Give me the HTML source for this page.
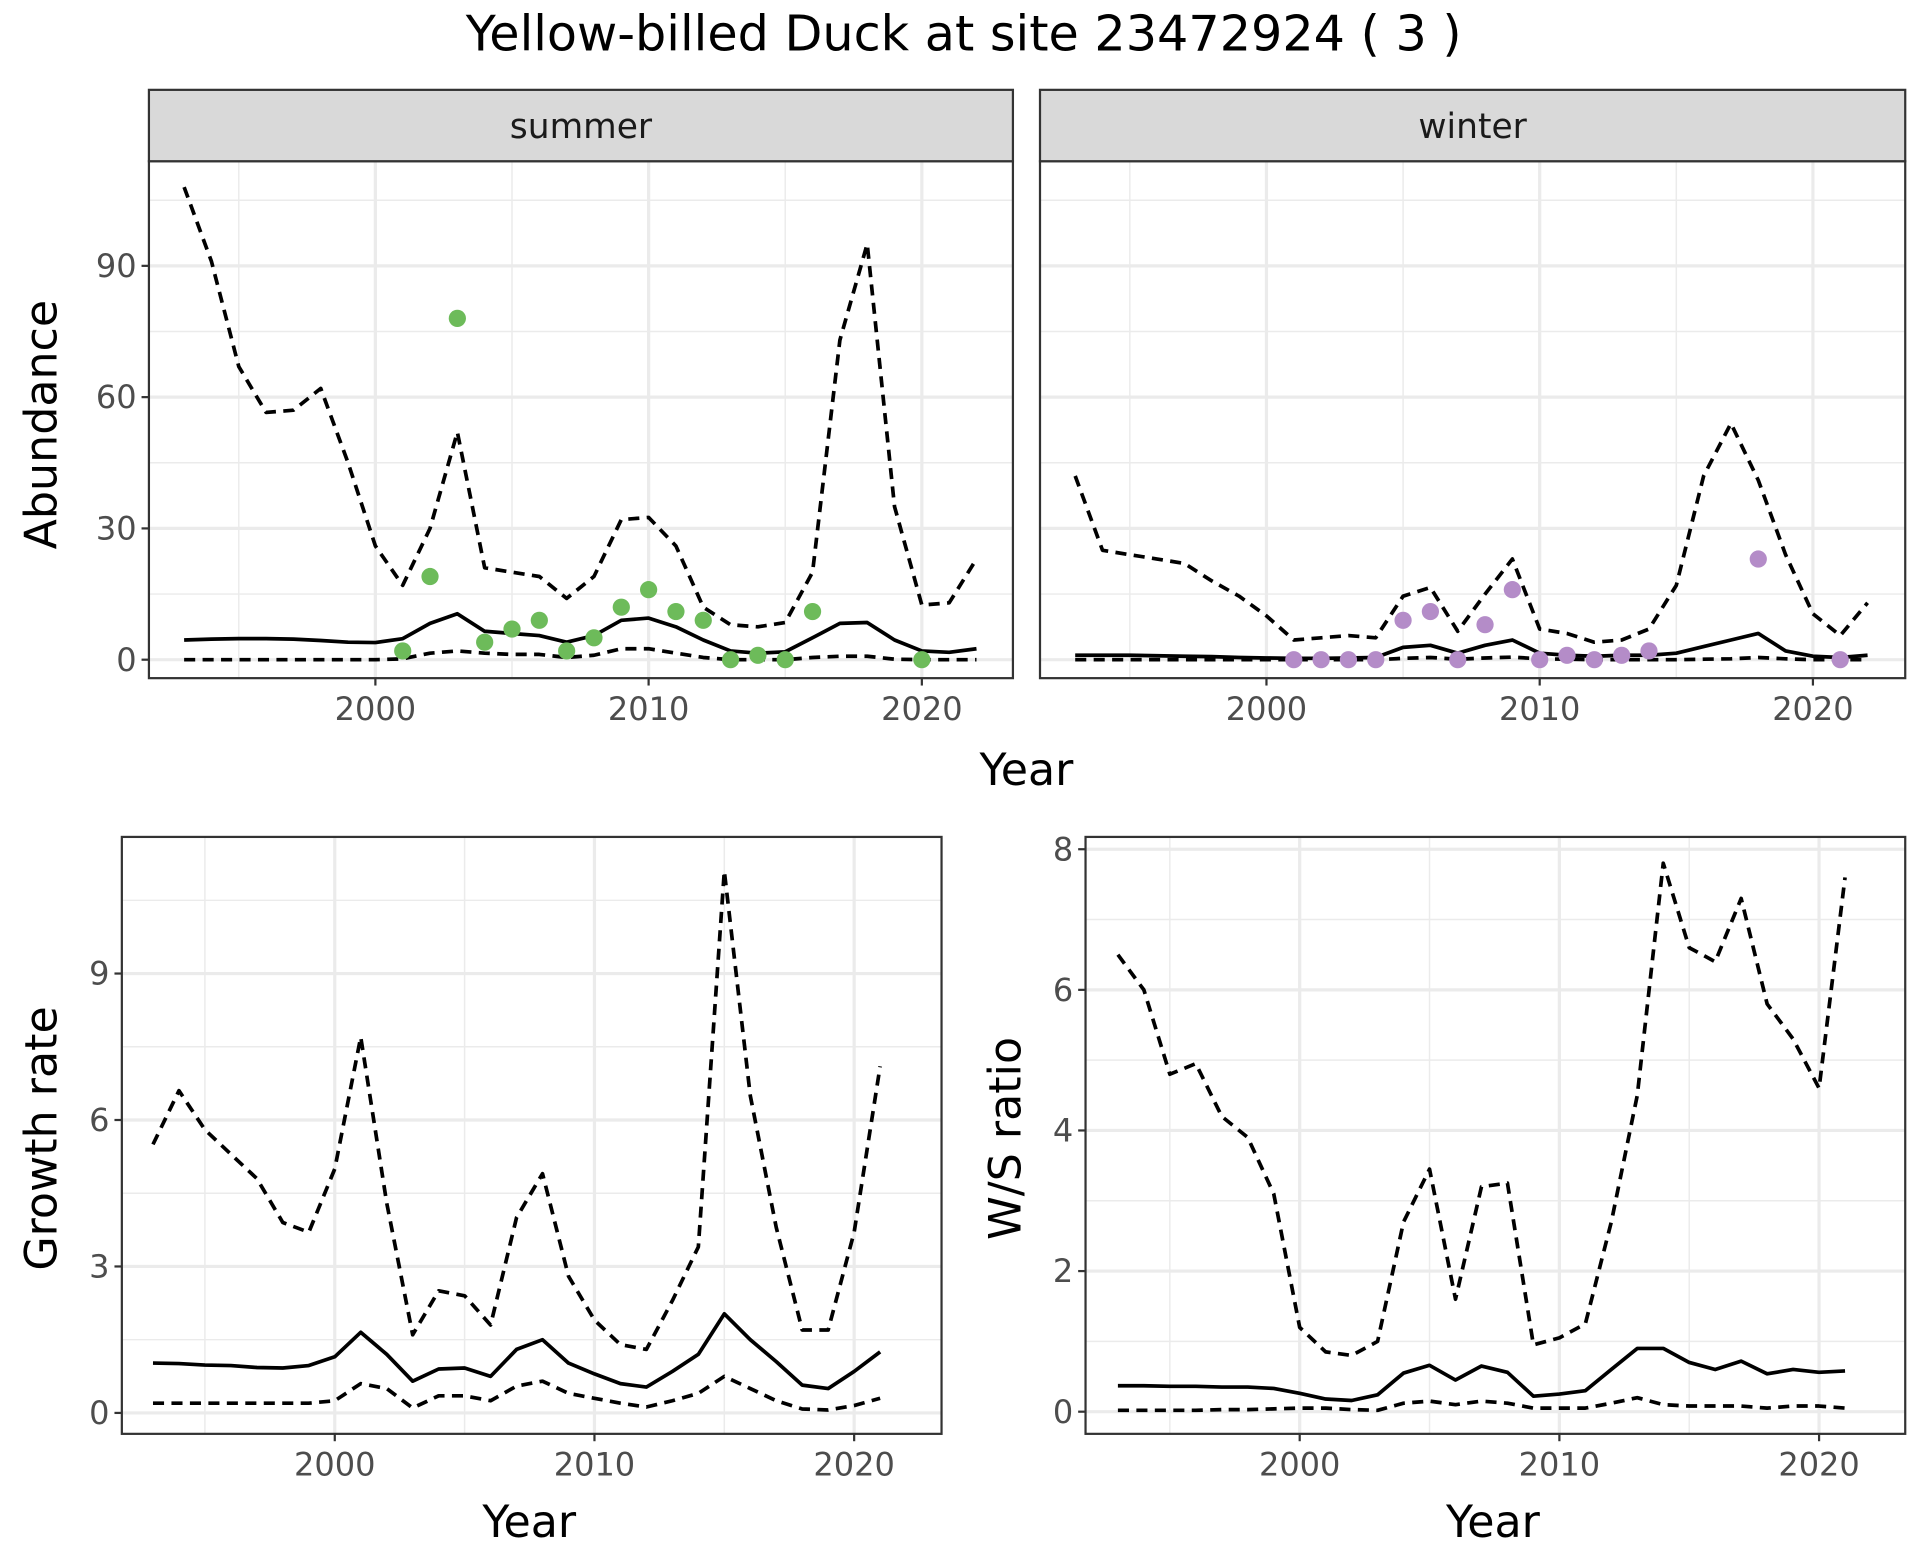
<!DOCTYPE html>
<html><head><meta charset="utf-8"><style>
html,body{margin:0;padding:0;background:#fff;}
svg{display:block;font-family:"DejaVu Sans","Liberation Sans",sans-serif;}
</style></head><body>
<svg id="fig" width="1920" height="1560" viewBox="0 0 1560 1267.5" preserveAspectRatio="none" xmlns="http://www.w3.org/2000/svg">
<text x="783" y="41" text-anchor="middle" font-size="40" fill="#000">Yellow-billed Duck at site 23472924 ( 3 )</text>
</svg>
<script>
const absYears=[1993,1994,1995,1996,1997,1998,1999,2000,2001,2002,2003,2004,2005,2006,2007,2008,2009,2010,2011,2012,2013,2014,2015,2016,2017,2018,2019,2020,2021,2022];
const sumMean=[4.5,4.7,4.8,4.8,4.7,4.4,4.0,3.9,4.8,8.3,10.5,6.5,6.0,5.5,4.0,5.5,9.0,9.5,7.5,4.5,2.0,1.5,1.8,5.0,8.3,8.5,4.5,2.0,1.7,2.5];
const sumUpper=[108,91,67,56.5,57,62,45,26,17,30,52,21,20,19,14,19,32,32.5,26,12,8,7.5,8.5,20,73,95,35,12.5,13,23];
const sumLower=[0,0,0,0,0,0,0,0,0.2,1.5,2,1.5,1.2,1.2,0.5,1,2.5,2.5,1.5,0.5,0,0,0,0.5,0.8,0.8,0.1,0,0,0];
const sumPtYears=[2001,2002,2003,2004,2005,2006,2007,2008,2009,2010,2011,2012,2013,2014,2015,2016,2020];
const sumPtVals=[2,19,78,4,7,9,2,5,12,16,11,9,0,1,0,11,0];
const winMean=[1,1,1,0.9,0.8,0.7,0.5,0.4,0.3,0.3,0.4,0.5,2.8,3.3,1.5,3.3,4.5,1.5,1,0.8,1,1,1.5,3,4.5,6,2,0.8,0.5,1];
const winUpper=[42,25,24,23,22,18,14.5,10,4.5,5,5.5,5,14.5,16.5,6.5,15,23,7,6,4,4.5,7,17,42,54,41,24,10.5,5.5,13];
const winLower=[0,0,0,0,0,0,0,0,0,0,0,0,0.3,0.5,0.1,0.4,0.6,0.2,0.1,0,0,0,0,0.1,0.2,0.5,0.2,0,0,0];
const winPtYears=[2001,2002,2003,2004,2005,2006,2007,2008,2009,2010,2011,2012,2013,2014,2018,2021];
const winPtVals=[0,0,0,0,9,11,0,8,16,0,1,0,1,2,23,0];
const grYears=[1993,1994,1995,1996,1997,1998,1999,2000,2001,2002,2003,2004,2005,2006,2007,2008,2009,2010,2011,2012,2013,2014,2015,2016,2017,2018,2019,2020,2021];
const grMean=[1.02,1.01,0.98,0.97,0.93,0.92,0.97,1.15,1.65,1.2,0.65,0.9,0.92,0.75,1.3,1.5,1.02,0.8,0.6,0.53,0.85,1.2,2.03,1.5,1.05,0.57,0.5,0.85,1.25];
const grUpper=[5.5,6.6,5.8,5.3,4.8,3.9,3.7,5.0,7.7,4.3,1.6,2.5,2.4,1.8,4.0,4.9,2.8,1.9,1.4,1.3,2.3,3.4,11.1,6.5,3.8,1.7,1.7,3.7,7.1];
const grLower=[0.2,0.2,0.2,0.2,0.2,0.2,0.2,0.25,0.6,0.5,0.1,0.35,0.35,0.25,0.55,0.65,0.4,0.3,0.2,0.12,0.25,0.4,0.75,0.5,0.25,0.08,0.06,0.15,0.3];
const wsMean=[0.37,0.37,0.36,0.36,0.35,0.35,0.33,0.26,0.18,0.16,0.24,0.55,0.66,0.45,0.65,0.56,0.22,0.25,0.3,0.6,0.9,0.9,0.7,0.6,0.72,0.54,0.6,0.56,0.58];
const wsUpper=[6.5,6.0,4.8,4.95,4.2,3.9,3.1,1.2,0.85,0.8,1.0,2.7,3.45,1.6,3.2,3.25,0.95,1.05,1.25,2.7,4.5,7.8,6.6,6.4,7.3,5.8,5.3,4.6,7.6];
const wsLower=[0.02,0.02,0.02,0.02,0.03,0.03,0.04,0.05,0.05,0.03,0.02,0.12,0.15,0.1,0.15,0.12,0.05,0.05,0.05,0.12,0.2,0.1,0.08,0.08,0.08,0.05,0.08,0.08,0.05];
const xTicks=[2000,2010,2020];
const xMinor=[1995,2005,2015];
const abTicks=[0,30,60,90];
const abMinor=[15,45,75,105];
const grTicks=[0,3,6,9];
const grMinor=[1.5,4.5,7.5,10.5];
const wsTicks=[0,2,4,6,8];
const wsMinor=[1,3,5,7];

const NS="http://www.w3.org/2000/svg";
const svg=document.getElementById('fig');
function mk(tag,attrs,parent){const e=document.createElementNS(NS,tag);for(const k in attrs)e.setAttribute(k,attrs[k]);(parent||svg).appendChild(e);return e;}
function lin(d0,d1,r0,r1){return v=>r0+(v-d0)*(r1-r0)/(d1-d0);}

function panel(o){
  const g=mk('g',{});
  
  
  const X=lin(2000,2010,o.x2000,o.x2010), Y=lin(0,o.yRefVal,o.y0,o.yRef);
  for(const v of o.yMinor){const y=Y(v);if(y<o.top||y>o.bottom)continue;const l=mk('line',{x1:o.left,x2:o.right,y1:y,y2:y,stroke:'#ebebeb','stroke-width':1.2},g);}
  for(const v of xMinor){const x=X(v);const l=mk('line',{x1:x,x2:x,y1:o.top,y2:o.bottom,stroke:'#ebebeb','stroke-width':1.2},g);}
  for(const v of o.yTicks){const y=Y(v);const l=mk('line',{x1:o.left,x2:o.right,y1:y,y2:y,stroke:'#ebebeb','stroke-width':2.6},g);}
  for(const v of xTicks){const x=X(v);const l=mk('line',{x1:x,x2:x,y1:o.top,y2:o.bottom,stroke:'#ebebeb','stroke-width':2.6},g);}
  const series=[[o.upper,'9,6'],[o.lower,'9,6'],[o.mean,null]];
  series.forEach(([vals,dash],i)=>{
    const pts=o.years.map((yr,j)=>X(yr).toFixed(1)+','+Y(vals[j]).toFixed(1)).join(' ');
    const a={points:pts,fill:'none',stroke:'#000','stroke-width':3,'stroke-linejoin':'round'};
    if(dash)a['stroke-dasharray']=dash;
    const p=mk('polyline',a,g);
    
    
  });
  if(o.ptYears){o.ptYears.forEach((yr,j)=>{const c=mk('circle',{cx:X(yr),cy:Y(o.ptVals[j]),r:7,fill:o.ptColor},g);});}
  const fr=mk('rect',{x:o.left,y:o.top,width:o.right-o.left,height:o.bottom-o.top,fill:'none',stroke:'#333','stroke-width':1.8},g);
  
  if(o.strip){
    const s=mk('rect',{x:o.left,y:o.top-58,width:o.right-o.left,height:58,fill:'#d9d9d9',stroke:'#333','stroke-width':1.8},g);
    
    const t=mk('text',{x:(o.left+o.right)/2,y:o.top-19,'text-anchor':'middle','font-size':28,fill:'#1a1a1a'},g);t.textContent=o.strip;
    
  }
  for(const v of xTicks){const x=X(v);
    const tk=mk('line',{x1:x,x2:x,y1:o.bottom,y2:o.bottom+6,stroke:'#333','stroke-width':1.8},g);
    const t=mk('text',{x:x,y:o.bottom+34,'text-anchor':'middle','font-size':26,fill:'#4d4d4d'},g);t.textContent=v;
    }
  if(o.yLabels){for(const v of o.yTicks){const y=Y(v);
    const tk=mk('line',{x1:o.left-6,x2:o.left,y1:y,y2:y,stroke:'#333','stroke-width':1.8},g);
    const t=mk('text',{x:o.left-10,y:y+9,'text-anchor':'end','font-size':26,fill:'#4d4d4d'},g);t.textContent=v;
    }}
  if(o.ytitle){const t=mk('text',{x:o.ytx,y:o.yty,'text-anchor':'middle','font-size':36,fill:'#000',transform:`rotate(-90 ${o.ytx} ${o.yty})`},g);t.textContent=o.ytitle;
    }
  if(o.xtitle){const t=mk('text',{x:o.xtx,y:o.xty,'text-anchor':'middle','font-size':36,fill:'#000'},g);t.textContent='Year';
    }
}
panel({name:'summer-panel',left:121,right:823,top:131,bottom:551,x2000:305,x2010:527,y0:536,yRef:216,yRefVal:90,yTicks:abTicks,yMinor:abMinor,years:absYears,mean:sumMean,upper:sumUpper,lower:sumLower,ptYears:sumPtYears,ptVals:sumPtVals,ptColor:'#6dbb5a',strip:'summer',yLabels:true,ytitle:'Abundance',ytx:46,yty:345});
panel({name:'winter-panel',left:845,right:1548,top:131,bottom:551,x2000:1029,x2010:1251,y0:536,yRef:216,yRefVal:90,yTicks:abTicks,yMinor:abMinor,years:absYears,mean:winMean,upper:winUpper,lower:winLower,ptYears:winPtYears,ptVals:winPtVals,ptColor:'#b48cc8',strip:'winter',yLabels:false,xtitle:true,xtx:834,xty:638});
panel({name:'growth-rate-panel',left:99,right:765,top:680,bottom:1165,x2000:272,x2010:483,y0:1148,yRef:791,yRefVal:9,yTicks:grTicks,yMinor:grMinor,years:grYears,mean:grMean,upper:grUpper,lower:grLower,yLabels:true,ytitle:'Growth rate',ytx:46,yty:925,xtitle:true,xtx:430,xty:1249});
panel({name:'ws-ratio-panel',left:882,right:1548,top:680,bottom:1165,x2000:1056,x2010:1267,y0:1147,yRef:690,yRefVal:8,yTicks:wsTicks,yMinor:wsMinor,years:grYears,mean:wsMean,upper:wsUpper,lower:wsLower,yLabels:true,ytitle:'W/S ratio',ytx:829,yty:925,xtitle:true,xtx:1213,xty:1249});
</script>
</body></html>
